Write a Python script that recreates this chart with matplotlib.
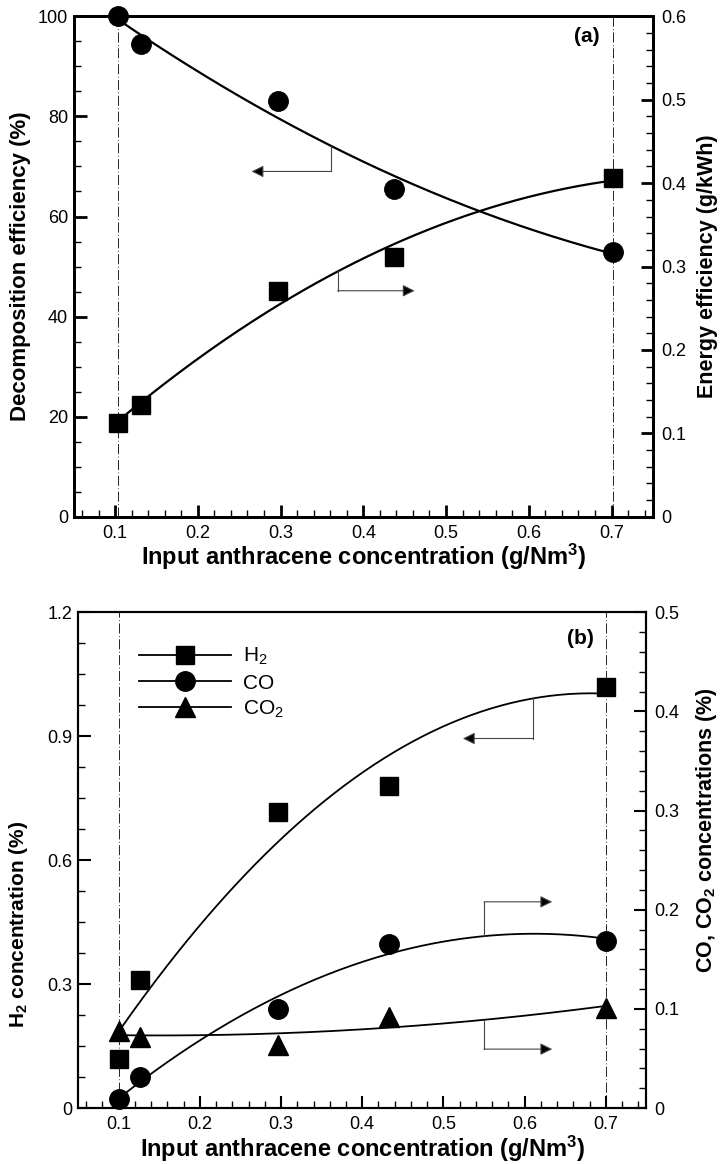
import numpy as np
import matplotlib
matplotlib.use("Agg")
import matplotlib.pyplot as plt
from matplotlib.lines import Line2D
from matplotlib.ticker import MultipleLocator, FuncFormatter, FixedLocator
from matplotlib import font_manager

plt.rcParams['font.family'] = ['Liberation Sans', 'DejaVu Sans']
plt.rcParams['mathtext.default'] = 'regular'

_names = {f.name for f in font_manager.fontManager.ttflist}
NARROW = 'Liberation Sans Narrow' if 'Liberation Sans Narrow' in _names else 'Liberation Sans'

# ---------------- data: panel (a) ----------------
conc_a = [0.104, 0.131, 0.297, 0.437, 0.702]
decomp_eff = [100.0, 94.4, 83.0, 65.5, 53.0]          # %
energy_eff = [0.113, 0.134, 0.271, 0.312, 0.406]      # g/kWh

# ---------------- data: panel (b) ----------------
conc_b = [0.100, 0.126, 0.296, 0.433, 0.700]
h2_conc = [0.118, 0.310, 0.717, 0.780, 1.018]         # %
co_conc = [0.009, 0.031, 0.100, 0.166, 0.169]         # %
co2_conc = [0.078, 0.072, 0.0635, 0.092, 0.101]       # %

x_ticks = [0.1, 0.2, 0.3, 0.4, 0.5, 0.6, 0.7]
xlabel = 'Input anthracene concentration (g/Nm$^3$)'

fig = plt.figure(figsize=(7.23, 11.64), dpi=100)

TICKFS = 13
fmt = FuncFormatter(lambda v, p: '0' if abs(v) < 1e-9 else ('%g' % round(v, 4)))


def fit(x, y, deg, n=200):
    x = np.asarray(x); y = np.asarray(y)
    c = np.polyfit(x, y, deg)
    xs = np.linspace(x.min(), x.max(), n)
    return xs, np.polyval(c, xs), c


def style_axes(ax, axr, lw_spine):
    for a in (ax, axr):
        for s in a.spines.values():
            s.set_linewidth(lw_spine)
    ax.set_xlim(0.05, 0.75)
    ax.xaxis.set_major_locator(FixedLocator(x_ticks))
    ax.xaxis.set_minor_locator(MultipleLocator(0.02))
    ax.xaxis.set_major_formatter(fmt)
    ax.tick_params(axis='x', which='both', direction='in', top=False,
                   labelsize=TICKFS, pad=6)
    ax.tick_params(axis='y', which='both', direction='in', right=False,
                   labelsize=TICKFS, pad=4)
    axr.tick_params(axis='y', which='both', direction='in', left=False,
                    labelsize=TICKFS, pad=6)
    ax.yaxis.set_major_formatter(fmt)
    axr.yaxis.set_major_formatter(fmt)
    for a in (ax, axr):
        a.tick_params(which='major', length=9, width=lw_spine)
        a.tick_params(which='minor', length=5, width=1.0)


def arrow(ax, xv, y0, y1, x1, color='#444444'):
    ax.plot([xv, xv], [y0, y1], color=color, lw=0.8)
    ax.annotate('', xy=(x1, y1), xytext=(xv, y1),
                arrowprops=dict(arrowstyle='-|>', color=color, lw=0.8,
                                mutation_scale=18, shrinkA=0, shrinkB=0,
                                fc='black'))


# ================= panel (a) =================
ax1 = fig.add_axes([0.102, 0.556, 0.801, 0.430])
ax1r = ax1.twinx()
style_axes(ax1, ax1r, 2.0)
ax1.set_ylim(0, 100)
ax1.yaxis.set_major_locator(MultipleLocator(20))
ax1.yaxis.set_minor_locator(MultipleLocator(5))
ax1r.set_ylim(0, 0.6)
ax1r.yaxis.set_major_locator(MultipleLocator(0.1))
ax1r.yaxis.set_minor_locator(MultipleLocator(0.02))

for xv in (conc_a[0], conc_a[-1]):
    ax1.axvline(xv, color='black', lw=0.6, ls=(0, (12, 3, 1, 3)))

xs, ys, c_dec = fit(conc_a, decomp_eff, 2)
ax1.plot(xs, ys, color='black', lw=1.6)
ax1.plot(conc_a, decomp_eff, 'o', color='black', ms=14, clip_on=False, zorder=5)

xs, ys, c_en = fit(conc_a, energy_eff, 2)
ax1r.plot(xs, ys, color='black', lw=1.6)
ax1r.plot(conc_a, energy_eff, 's', color='black', ms=13, clip_on=False, zorder=5)

arrow(ax1, 0.361, np.polyval(c_dec, 0.361), 69.0, 0.265)
arrow(ax1r, 0.369, np.polyval(c_en, 0.369), 0.271, 0.462)

ax1.text(0.670, 96.0, '(a)', fontsize=15, fontweight='bold', ha='center', va='center')
ax1.set_xlabel(xlabel, fontsize=17, fontweight='bold', labelpad=0)
ax1.set_ylabel('Decomposition efficiency (%)', fontsize=16, fontweight='bold', labelpad=5)
ax1r.set_ylabel('Energy efficiency (g/kWh)', fontsize=15.5, fontweight='bold', labelpad=8)

# ================= panel (b) =================
ax2 = fig.add_axes([0.108, 0.048, 0.786, 0.426])
ax2r = ax2.twinx()
style_axes(ax2, ax2r, 1.5)
ax2.set_ylim(0, 1.2)
ax2.yaxis.set_major_locator(MultipleLocator(0.3))
ax2.yaxis.set_minor_locator(MultipleLocator(0.075))
ax2r.set_ylim(0, 0.5)
ax2r.yaxis.set_major_locator(MultipleLocator(0.1))
ax2r.yaxis.set_minor_locator(MultipleLocator(0.02))

for xv in (conc_b[0], conc_b[-1]):
    ax2.axvline(xv, color='black', lw=0.6, ls=(0, (12, 3, 1, 3)))

xs, ys, c_h2 = fit(conc_b, h2_conc, 2)
ax2.plot(xs, ys, color='black', lw=1.3)
ax2.plot(conc_b, h2_conc, 's', color='black', ms=13, clip_on=False, zorder=5)

xs, ys, c_co = fit(conc_b, co_conc, 2)
ax2r.plot(xs, ys, color='black', lw=1.3)
ax2r.plot(conc_b, co_conc, 'o', color='black', ms=14, clip_on=False, zorder=5)

xs, ys, c_co2 = fit(conc_b, co2_conc, 2)
ax2r.plot(xs, ys, color='black', lw=1.3)
ax2r.plot(conc_b, co2_conc, '^', color='black', ms=14, clip_on=False, zorder=5)

arrow(ax2, 0.61, np.polyval(c_h2, 0.61), 0.8945, 0.524)
arrow(ax2r, 0.55, np.polyval(c_co, 0.55), 0.208, 0.634)
arrow(ax2r, 0.55, np.polyval(c_co2, 0.55), 0.0595, 0.634)

ax2.text(0.669, 1.137, '(b)', fontsize=15, fontweight='bold', ha='center', va='center')

handles = [Line2D([], [], color='black', lw=1.3, marker='s', ms=13),
           Line2D([], [], color='black', lw=1.3, marker='o', ms=14),
           Line2D([], [], color='black', lw=1.3, marker='^', ms=14)]
ax2.legend(handles, ['H$_2$', 'CO', 'CO$_2$'], loc='upper left',
           bbox_to_anchor=(0.107, 0.932), frameon=False, fontsize=15,
           handlelength=4.4, handletextpad=0.6, labelspacing=0.3,
           borderaxespad=0, borderpad=0)

ax2.set_xlabel(xlabel, fontsize=17, fontweight='bold', labelpad=0)
ax2.set_ylabel('H$_2$ concentration (%)', fontsize=15, fontweight='bold',
               family=[NARROW, 'DejaVu Sans'])
ax2.yaxis.set_label_coords(-0.085, 0.37)
ax2r.set_ylabel('CO, CO$_2$ concentrations (%)', fontsize=15.5, fontweight='bold',
                family=[NARROW, 'DejaVu Sans'])
ax2r.yaxis.set_label_coords(1.083, 0.56)

fig.savefig('out.png', dpi=100)
